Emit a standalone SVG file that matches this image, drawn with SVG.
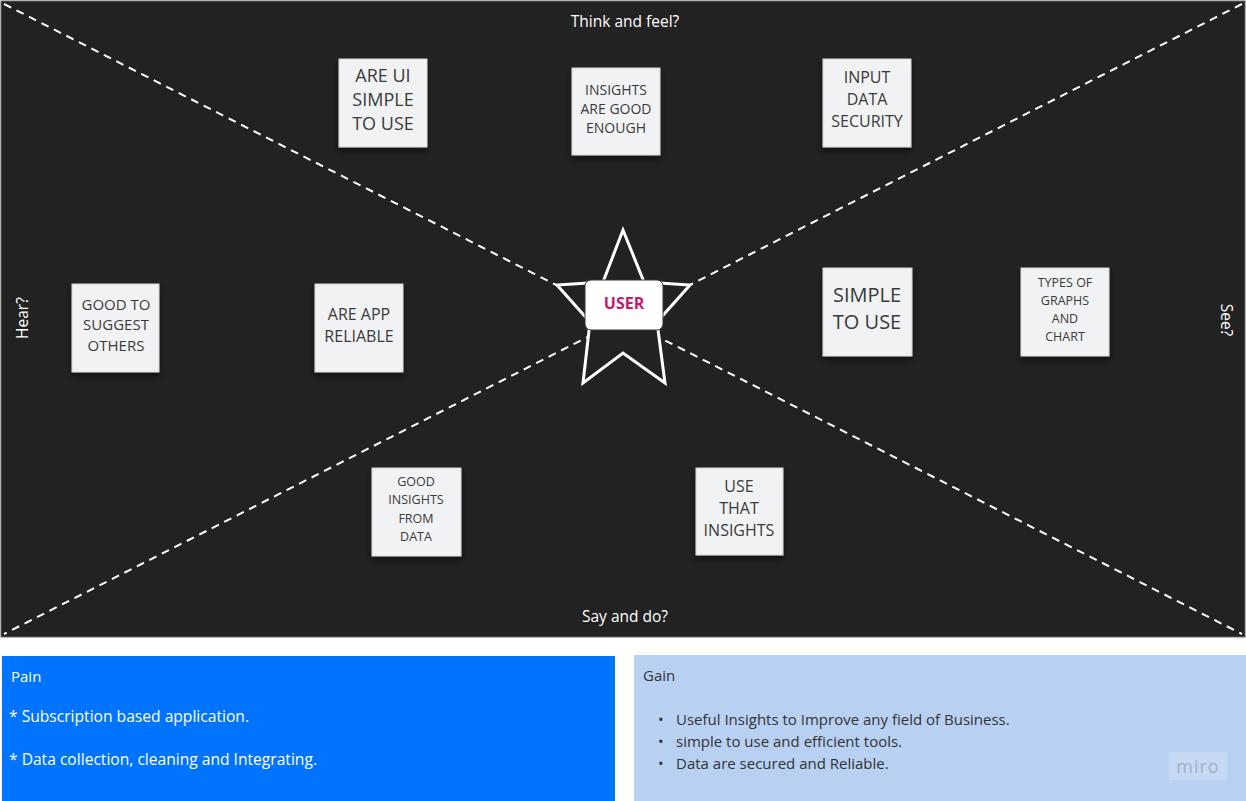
<svg xmlns="http://www.w3.org/2000/svg" width="1246" height="801" viewBox="0 0 1246 801">
<defs>
<filter id="sh" x="-20%" y="-20%" width="140%" height="150%">
<feDropShadow dx="0" dy="4" stdDeviation="3" flood-color="#000" flood-opacity="0.5"/>
</filter>
<style>
.note{fill:#f1f2f4;stroke:#d6d6d6;stroke-width:1;filter:url(#sh)}
.nt{font-family:"Open Sans","Liberation Sans",sans-serif;fill:#3a3a3a;text-anchor:middle}
.lbl{font-family:"Open Sans","Liberation Sans",sans-serif;fill:#ffffff;font-size:15.5px;text-anchor:middle}
.dash{stroke:#ffffff;stroke-width:2;stroke-dasharray:8 6;fill:none}
.pt{font-family:"Open Sans","Liberation Sans",sans-serif;fill:#ffffff}
.gt{font-family:"Open Sans","Liberation Sans",sans-serif;fill:#333333}
</style>
</defs>
<rect x="0" y="0" width="1246" height="801" fill="#ffffff"/>
<rect x="1" y="1" width="1244" height="636" fill="#222222" stroke="#666666" stroke-width="1"/>
<g id="connectors">
<line class="dash" x1="4" y1="4" x2="1242" y2="634"/>
<line class="dash" x1="1242" y1="4" x2="4" y2="634"/>
</g>
<g id="labels">
<text class="lbl" x="625" y="27">Think and feel?</text>
<text class="lbl" x="625" y="622">Say and do?</text>
<text class="lbl" transform="translate(28,318) rotate(-90)">Hear?</text>
<text class="lbl" transform="translate(1221,320) rotate(90)">See?</text>
</g>
<g id="user">
<polygon points="623,230 644,282 690,285 657,322 665,383 623,353 583,383 590,322 557,285 603,282" fill="#222222" stroke="#ffffff" stroke-width="3" stroke-linejoin="miter"/>
<rect x="585" y="280" width="78" height="50" rx="6" fill="#ffffff" stroke="#333333" stroke-width="1"/>
<text x="624" y="309" font-family="'Open Sans','Liberation Sans',sans-serif" font-size="16" font-weight="bold" fill="#c8186e" text-anchor="middle">USER</text>
</g>
<g id="n-ui-simple">
<rect class="note" x="339" y="59" width="88" height="88"/>
<text class="nt" font-size="18"><tspan x="383" y="82">ARE UI</tspan><tspan x="383" y="106">SIMPLE</tspan><tspan x="383" y="130">TO USE</tspan></text>
</g>
<g id="n-insights-good">
<rect class="note" x="572" y="68" width="88" height="87"/>
<text class="nt" font-size="14"><tspan x="616" y="95">INSIGHTS</tspan><tspan x="616" y="114">ARE GOOD</tspan><tspan x="616" y="133">ENOUGH</tspan></text>
</g>
<g id="n-input-security">
<rect class="note" x="823" y="59" width="88" height="88"/>
<text class="nt" font-size="16"><tspan x="867" y="83">INPUT</tspan><tspan x="867" y="105">DATA</tspan><tspan x="867" y="127">SECURITY</tspan></text>
</g>
<g id="n-simple-use">
<rect class="note" x="823" y="268" width="89" height="88"/>
<text class="nt" font-size="20"><tspan x="867" y="302">SIMPLE</tspan><tspan x="867" y="329">TO USE</tspan></text>
</g>
<g id="n-types-graphs">
<rect class="note" x="1021" y="268" width="88" height="88"/>
<text class="nt" font-size="12.5"><tspan x="1065" y="287">TYPES OF</tspan><tspan x="1065" y="305">GRAPHS</tspan><tspan x="1065" y="323">AND</tspan><tspan x="1065" y="341">CHART</tspan></text>
</g>
<g id="n-suggest">
<rect class="note" x="72" y="284" width="87" height="88"/>
<text class="nt" font-size="15"><tspan x="116" y="310">GOOD TO</tspan><tspan x="116" y="330">SUGGEST</tspan><tspan x="116" y="351">OTHERS</tspan></text>
</g>
<g id="n-app-reliable">
<rect class="note" x="315" y="284" width="88" height="88"/>
<text class="nt" font-size="16"><tspan x="359" y="320">ARE APP</tspan><tspan x="359" y="342">RELIABLE</tspan></text>
</g>
<g id="n-good-insights">
<rect class="note" x="372" y="468" width="89" height="88"/>
<text class="nt" font-size="12.5"><tspan x="416" y="486">GOOD</tspan><tspan x="416" y="504">INSIGHTS</tspan><tspan x="416" y="523">FROM</tspan><tspan x="416" y="541">DATA</tspan></text>
</g>
<g id="n-use-insights">
<rect class="note" x="696" y="468" width="87" height="87"/>
<text class="nt" font-size="16"><tspan x="739" y="492">USE</tspan><tspan x="739" y="514">THAT</tspan><tspan x="739" y="536">INSIGHTS</tspan></text>
</g>
<g id="pain">
<rect x="2" y="656" width="613" height="145" fill="#0073ff"/>
<text class="pt" x="11" y="682" font-size="15">Pain</text>
<text class="pt" x="9" y="722" font-size="16" textLength="240" lengthAdjust="spacingAndGlyphs">* Subscription based application.</text>
<text class="pt" x="9" y="765" font-size="16" textLength="308" lengthAdjust="spacingAndGlyphs">* Data collection, cleaning and Integrating.</text>
</g>
<g id="gain">
<rect x="634" y="655" width="612" height="146" fill="#b8d0f2"/>
<text class="gt" x="643" y="681" font-size="15">Gain</text>
<text class="gt" font-size="15"><tspan x="658" y="725">•</tspan><tspan x="676" y="725">Useful Insights to Improve any field of Business.</tspan></text>
<text class="gt" font-size="15"><tspan x="658" y="747">•</tspan><tspan x="676" y="747">simple to use and efficient tools.</tspan></text>
<text class="gt" font-size="15"><tspan x="658" y="769">•</tspan><tspan x="676" y="769">Data are secured and Reliable.</tspan></text>
</g>
<g id="miro">
<rect x="1169" y="752" width="58" height="28" fill="#c6d9f4"/>
<text x="1198" y="773" font-family="'Open Sans','Liberation Sans',sans-serif" font-size="18" fill="#a3b1c9" text-anchor="middle" letter-spacing="1">miro</text>
</g>
</svg>
